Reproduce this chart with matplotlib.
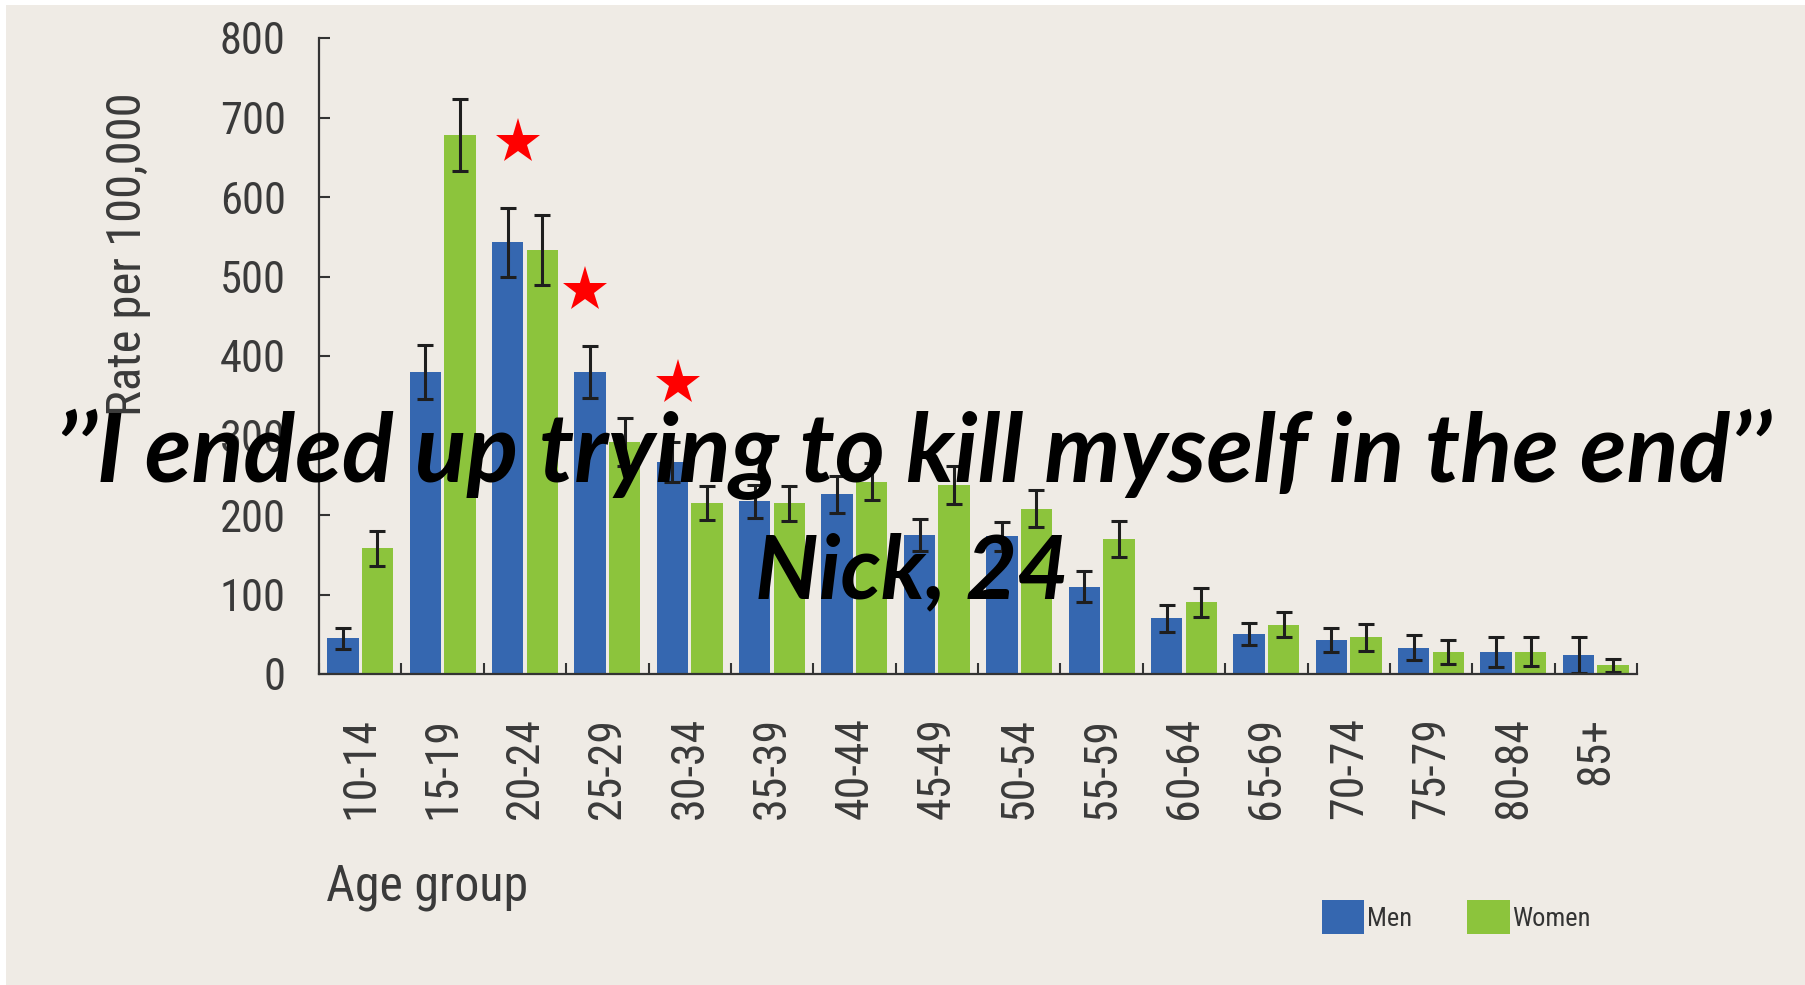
import matplotlib
matplotlib.use("Agg")
import numpy as np
import matplotlib.pyplot as plt
from matplotlib import font_manager as fm
from matplotlib.patches import Rectangle, Patch

# Age groups and rates per 100,000
age_groups = ['10-14', '15-19', '20-24', '25-29', '30-34', '35-39', '40-44', '45-49',
              '50-54', '55-59', '60-64', '65-69', '70-74', '75-79', '80-84', '85+']
men = [45, 380, 543, 380, 267, 217, 226, 175, 173, 110, 70, 50, 43, 33, 28, 24]
men_err = [13, 34, 43, 33, 25, 21, 23, 20, 18, 19, 17, 14, 15, 16, 19, 23]
women = [158, 678, 533, 292, 215, 215, 242, 238, 208, 170, 90, 62, 46, 28, 28, 11]
women_err = [22, 45, 44, 30, 21, 22, 23, 24, 23, 23, 18, 16, 17, 15, 18, 8]
y_ticks = [0, 100, 200, 300, 400, 500, 600, 700, 800]

# red star annotations (group position, rate)
star_x = [1.92, 2.73, 3.86]
star_y = [669, 483, 366]

quote = "\u2019\u2019I ended up trying to kill myself in the end\u2019\u2019"
speaker = "Nick, 24"

BG = '#EFEBE5'
BLUE = '#3567B0'
GREEN = '#8CC43C'
DARK = '#3a3a3a'

# the original chart uses a condensed sans; take one if there is one
installed = {f.name for f in fm.fontManager.ttflist}
narrow, stretch, k = 'Liberation Sans', 'normal', 0.88
for cand in ['Liberation Sans Narrow', 'DejaVu Sans Condensed', 'Noto Sans Condensed',
             'Roboto Condensed', 'Open Sans Condensed']:
    if cand in installed:
        narrow, k = cand, 1.0
        break
else:
    if any(f.name == 'DejaVu Sans' and f.stretch == 'condensed' for f in fm.fontManager.ttflist):
        narrow, stretch, k = 'DejaVu Sans', 'condensed', 0.9
font = dict(fontfamily=narrow, fontstretch=stretch)

fig = plt.figure(figsize=(18.06, 9.85), dpi=100)
fig.patch.set_facecolor('white')
fig.patches.append(Rectangle((6 / 1806, 0), 1, 1 - 5 / 985, transform=fig.transFigure,
                             facecolor=BG, edgecolor='none', zorder=-10))

ax = fig.add_axes([319 / 1806, 1 - 674 / 985, (1637 - 319) / 1806, 636 / 985])
ax.set_facecolor('none')

x = np.arange(len(age_groups))
w = 0.38
ekw = dict(ecolor='#1e1e1e', elinewidth=2.2, capsize=6, capthick=2.2)
ax.bar(x - 0.21, men, w, yerr=men_err, color=BLUE, error_kw=ekw, label='Men')
ax.bar(x + 0.21, women, w, yerr=women_err, color=GREEN, error_kw=ekw, label='Women')

ax.plot(star_x, star_y, linestyle='none', marker='*', color='#FF0000',
        markersize=34, markeredgewidth=0, zorder=5, clip_on=False)

ax.set_xlim(-0.5, len(age_groups) - 0.5)
ax.set_ylim(0, 800)
ax.set_xticks(x)
ax.set_xticklabels(age_groups, rotation=90, fontsize=33 * k, color=DARK, **font)
ax.set_xticks(np.arange(-0.5, len(age_groups)), minor=True)
ax.tick_params(axis='x', which='major', length=0, pad=31)
ax.tick_params(axis='x', which='minor', direction='in', length=8, width=1.5, color='#333333')
ax.set_yticks(y_ticks)
ax.set_yticklabels([str(v) for v in y_ticks], fontsize=32 * k, color=DARK, **font)
ax.tick_params(axis='y', direction='in', length=8, width=1.5, color='#333333', pad=24)

for s in ['top', 'right']:
    ax.spines[s].set_visible(False)
for s in ['left', 'bottom']:
    ax.spines[s].set_color('#333333')
    ax.spines[s].set_linewidth(1.6)

fig.text(128 / 1806, 1 - 254 / 985, 'Rate per 100,000', rotation=90, ha='center', va='center',
         fontsize=35 * k, color=DARK, **font)
fig.text(326 / 1806, 1 - 887 / 985, 'Age group', ha='left', va='center',
         fontsize=36 * k, color=DARK, **font)

handles = [Patch(facecolor=BLUE, label='Men'), Patch(facecolor=GREEN, label='Women')]
fig.legend(handles=handles, loc='center left', bbox_to_anchor=(1322 / 1806, 1 - 917 / 985),
           ncol=2, frameon=False,
           prop={'family': narrow, 'stretch': stretch, 'size': 19 * k},
           handlelength=1.6 / k, handleheight=1.6 / k, handletextpad=0.1, columnspacing=2.1,
           borderpad=0, borderaxespad=0, labelcolor='#333333')

fig.text(914 / 1806, 1 - 482 / 985, quote, ha='center', va='baseline',
         fontfamily='Lato', fontweight='bold', fontstyle='italic', fontsize=69, color='black')
fig.text(912 / 1806, 1 - 598 / 985, speaker, ha='center', va='baseline',
         fontfamily='Lato', fontweight='bold', fontstyle='italic', fontsize=64, color='black')

fig.savefig('out.png', dpi=100, facecolor=fig.get_facecolor())
